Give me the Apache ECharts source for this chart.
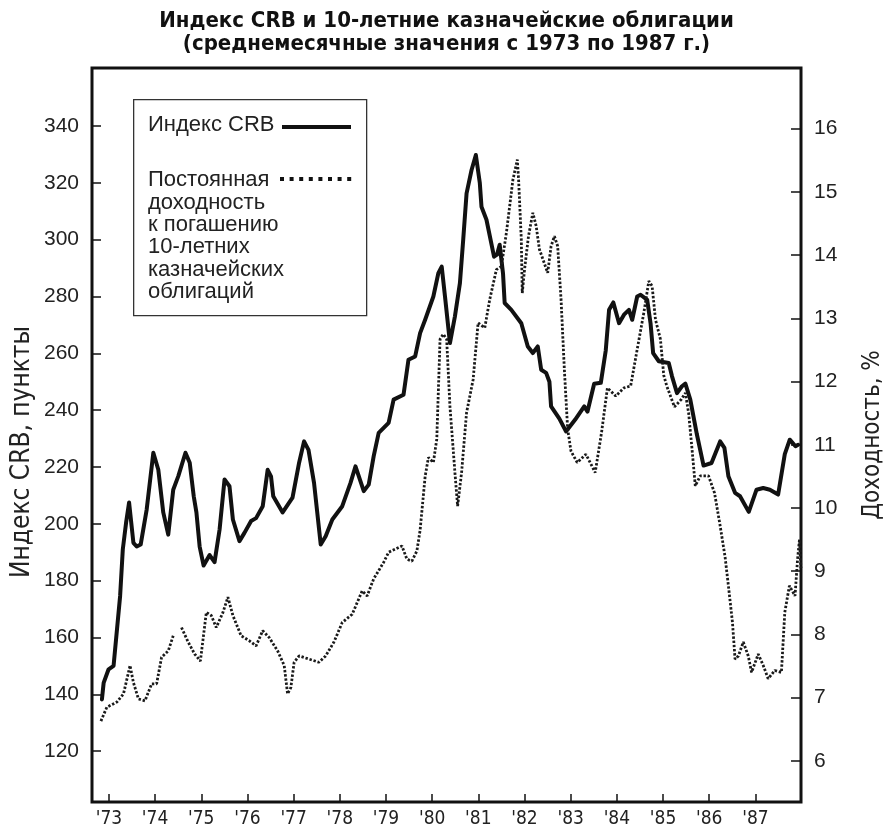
<!DOCTYPE html>
<html>
<head>
<meta charset="utf-8">
<title>Индекс CRB и 10-летние казначейские облигации</title>
<script src="https://cdn.jsdelivr.net/npm/echarts@6/dist/echarts.min.js"></script>
<style>
html, body { margin: 0; padding: 0; background: #fff; }
#chart { width: 893px; height: 829px; }
</style>
</head>
<body>
<div id="chart"></div>
<script>
// Индекс CRB (пункты), точки перегиба
var crbYears = [1972.849, 1972.886, 1972.993, 1973.101, 1973.243, 1973.301, 1973.372, 1973.437, 1973.531, 1973.602,
    1973.688, 1973.818, 1973.962, 1974.070, 1974.177, 1974.285, 1974.393, 1974.501, 1974.658, 1974.750,
    1974.837, 1974.895, 1974.965, 1975.051, 1975.181, 1975.288, 1975.397, 1975.504, 1975.611, 1975.685,
    1975.827, 1975.935, 1976.079, 1976.187, 1976.331, 1976.438, 1976.510, 1976.559, 1976.762, 1976.976,
    1977.119, 1977.226, 1977.322, 1977.442, 1977.587, 1977.694, 1977.838, 1978.053, 1978.232, 1978.340,
    1978.519, 1978.626, 1978.734, 1978.842, 1979.057, 1979.165, 1979.380, 1979.487, 1979.632, 1979.739,
    1979.848, 1980.026, 1980.134, 1980.207, 1980.278, 1980.385, 1980.493, 1980.601, 1980.672, 1980.745,
    1980.853, 1980.946, 1981.032, 1981.068, 1981.176, 1981.340, 1981.404, 1981.462, 1981.534, 1981.570,
    1981.714, 1981.930, 1982.071, 1982.180, 1982.287, 1982.361, 1982.468, 1982.539, 1982.575, 1982.754,
    1982.898, 1983.098, 1983.293, 1983.364, 1983.508, 1983.652, 1983.759, 1983.831, 1983.923, 1984.047,
    1984.154, 1984.261, 1984.332, 1984.440, 1984.513, 1984.656, 1984.729, 1984.785, 1984.908, 1985.123,
    1985.194, 1985.302, 1985.409, 1985.483, 1985.590, 1985.732, 1985.877, 1986.049, 1986.236, 1986.329,
    1986.415, 1986.559, 1986.667, 1986.856, 1987.024, 1987.169, 1987.313, 1987.492, 1987.636, 1987.744,
    1987.868, 1987.924];
var crbValues = [138.2, 144, 148.8, 150, 174.6, 191, 200.4, 207.5, 193.3, 192,
    192.7, 205, 225, 219, 204, 196.2, 212, 216.7, 225, 221.5,
    209.7, 204, 192, 185.3, 189, 186.5, 198, 215.6, 213.2, 201.5,
    193.9, 196.8, 201, 202, 206.2, 219, 216.7, 209.7, 204, 209.2,
    221.5, 229, 226, 214.4, 192.7, 195.6, 201.5, 206.2, 214.4, 220.2,
    211.5, 213.8, 223.8, 232, 235.5, 243.7, 245.4, 257.7, 258.9, 267.1,
    271.8, 280, 288.2, 290.5, 280, 263.6, 273, 284.7, 299.9, 316.3,
    324.5, 329.8, 319.9, 311.6, 307, 294, 294.7, 298.2, 288.2, 277.7,
    275.3, 270.6, 262.4, 260.1, 262.4, 254.2, 253.1, 250, 241.3, 237,
    232.5, 236.7, 241.3, 239.5, 249.3, 249.6, 261, 275.3, 277.9, 270.6,
    273.6, 275.3, 271.8, 280, 280.6, 278.8, 270.6, 260.1, 257.2, 256.6,
    251.9, 246, 248.4, 249.3, 243.7, 231.5, 220.5, 221.4, 229, 226.7,
    216.7, 210.9, 209.7, 204.2, 212, 212.6, 212, 210.3, 224.5, 229.6,
    227.3, 227.8];

// Доходность 10-летних казначейских облигаций (%), '-' — разрыв линии
var yieldYears = [1972.827, 1972.956, 1973.172, 1973.316, 1973.458, 1973.531, 1973.640, 1973.781, 1973.926, 1974.033,
    1974.141, 1974.285, 1974.393, 1974.484, 1974.572, 1974.716, 1974.858, 1974.981, 1975.110, 1975.217,
    1975.325, 1975.470, 1975.577, 1975.685, 1975.863, 1976.042, 1976.187, 1976.331, 1976.473, 1976.654,
    1976.796, 1976.869, 1976.940, 1977.011, 1977.119, 1977.335, 1977.549, 1977.694, 1977.873, 1978.053,
    1978.269, 1978.484, 1978.592, 1978.734, 1978.949, 1979.057, 1979.346, 1979.453, 1979.561, 1979.669,
    1979.739, 1979.848, 1979.919, 1980.026, 1980.100, 1980.171, 1980.241, 1980.314, 1980.385, 1980.493,
    1980.551, 1980.637, 1980.745, 1980.887, 1980.995, 1981.139, 1981.247, 1981.391, 1981.498, 1981.607,
    1981.748, 1981.844, 1981.872, 1981.930, 1981.951, 1982.000, 1982.086, 1982.180, 1982.252, 1982.323,
    1982.502, 1982.575, 1982.647, 1982.718, 1982.791, 1982.862, 1982.934, 1983.006, 1983.142, 1983.329,
    1983.421, 1983.530, 1983.669, 1983.795, 1983.975, 1984.154, 1984.298, 1984.440, 1984.584, 1984.692,
    1984.763, 1984.836, 1984.943, 1985.015, 1985.080, 1985.247, 1985.397, 1985.483, 1985.554, 1985.625,
    1985.698, 1985.806, 1985.984, 1986.114, 1986.236, 1986.344, 1986.415, 1986.503, 1986.559, 1986.631,
    1986.738, 1986.845, 1986.917, 1987.061, 1987.169, 1987.276, 1987.420, 1987.563, 1987.636, 1987.736,
    1987.857, 1987.914, 1987.954, 1987.985];
var yieldValues = [6.63, 6.85, 6.93, 7.06, 7.51, 7.24, 6.98, 6.95, 7.22, 7.22,
    7.64, 7.74, 7.98, '-', 8.11, 7.88, 7.69, 7.58, 8.35, 8.30,
    8.11, 8.35, 8.59, 8.30, 7.98, 7.90, 7.82, 8.06, 7.95, 7.74,
    7.51, 7.06, 7.16, 7.56, 7.66, 7.61, 7.56, 7.66, 7.88, 8.19,
    8.32, 8.69, 8.61, 8.88, 9.14, 9.30, 9.40, 9.19, 9.16, 9.32,
    9.65, 10.5, 10.8, 10.72, 11.09, 12.67, 12.75, 12.67, 11.61, 10.56,
    10.03, 10.56, 11.51, 12.03, 12.93, 12.85, 13.30, 13.77, 13.82, 14.35,
    15.19, 15.51, 15.19, 14.25, 13.40, 13.77, 14.30, 14.67, 14.46, 14.09,
    13.72, 14.14, 14.30, 14.14, 13.30, 12.20, 11.25, 10.90, 10.72, 10.85,
    10.72, 10.56, 11.20, 11.90, 11.77, 11.90, 11.93, 12.51, 13.09, 13.59,
    13.51, 12.98, 12.67, 12.10, 11.93, 11.60, 11.72, 11.82, 11.50, 10.95,
    10.35, 10.51, 10.51, 10.24, 9.72, 9.22, 8.77, 8.19, 7.61, 7.66,
    7.88, 7.66, 7.40, 7.69, 7.51, 7.30, 7.43, 7.40, 8.35, 8.77,
    8.61, 9.20, 9.50, 9.05];

var yearTicks = [1973, 1974, 1975, 1976, 1977, 1978, 1979, 1980, 1981, 1982, 1983, 1984, 1985, 1986, 1987];
var crbTicks = [120, 140, 160, 180, 200, 220, 240, 260, 280, 300, 320, 340];
var yieldTicks = [6, 7, 8, 9, 10, 11, 12, 13, 14, 15, 16];

var chart = echarts.init(document.getElementById('chart'));

function zip(xs, ys) {
    var out = [];
    for (var i = 0; i < xs.length; i++) {
        out.push([xs[i], ys[i]]);
    }
    return out;
}

var labelFont = "'Liberation Sans', Arial, sans-serif";
var narrowFont = "'Liberation Sans Narrow', 'DejaVu Sans Condensed', sans-serif";

var option = {
    animation: false,
    backgroundColor: '#fff',
    title: {
        text: 'Индекс CRB и 10-летние казначейские облигации\n(среднемесячные значения с 1973 по 1987 г.)',
        left: 'center',
        top: 5,
        textStyle: {
            fontFamily: "'DejaVu Sans Condensed', sans-serif",
            fontWeight: 'bold',
            fontSize: 22,
            lineHeight: 23,
            color: '#111'
        }
    },
    grid: {
        left: 92,
        right: 73,
        top: 68,
        bottom: 25,
        show: true,
        borderColor: '#111',
        borderWidth: 3,
        containLabel: false
    },
    xAxis: {
        type: 'value',
        min: 1972.634,
        max: 1987.987,
        axisLine: { show: false },
        splitLine: { show: false },
        axisTick: {
            inside: true,
            length: 8,
            customValues: yearTicks,
            lineStyle: { color: '#111', width: 1.5 }
        },
        axisLabel: {
            customValues: yearTicks,
            margin: 8,
            fontSize: 19,
            fontFamily: narrowFont,
            color: '#222',
            formatter: function (v) {
                return "'" + String(Math.round(v)).slice(2);
            }
        }
    },
    yAxis: [{
        type: 'value',
        position: 'left',
        min: 102.1,
        max: 360.4,
        axisLine: { show: false },
        splitLine: { show: false },
        axisTick: {
            inside: true,
            length: 9,
            customValues: crbTicks,
            lineStyle: { color: '#111', width: 1.5 }
        },
        axisLabel: {
            customValues: crbTicks,
            margin: 13,
            fontSize: 21,
            fontFamily: labelFont,
            color: '#222'
        }
    }, {
        type: 'value',
        position: 'right',
        min: 5.35,
        max: 16.96,
        name: 'Доходность, %',
        nameLocation: 'middle',
        nameRotate: 90,
        nameGap: 60,
        nameTextStyle: { fontSize: 24, fontFamily: narrowFont, color: '#222' },
        axisLine: { show: false },
        splitLine: { show: false },
        axisTick: {
            inside: true,
            length: 10,
            customValues: yieldTicks,
            lineStyle: { color: '#111', width: 1.5 }
        },
        axisLabel: {
            customValues: yieldTicks,
            margin: 13,
            fontSize: 21,
            fontFamily: labelFont,
            color: '#222'
        }
    }],
    series: [{
        name: 'Индекс CRB',
        type: 'line',
        yAxisIndex: 0,
        showSymbol: false,
        data: zip(crbYears, crbValues),
        lineStyle: { color: '#111', width: 4, join: 'round', cap: 'round' }
    }, {
        name: 'Доходность',
        type: 'line',
        yAxisIndex: 1,
        showSymbol: false,
        connectNulls: false,
        data: zip(yieldYears, yieldValues),
        lineStyle: { color: '#1a1a1a', width: 2.8, type: [2.4, 1.8] }
    }],
    graphic: [
        {
            // название левой оси
            type: 'text',
            x: 22, y: 452,
            rotation: Math.PI / 2,
            style: {
                text: 'Индекс CRB, пункты',
                font: "26px 'Liberation Sans Narrow', 'DejaVu Sans Condensed', sans-serif",
                fill: '#222',
                align: 'center',
                verticalAlign: 'middle'
            }
        },
        {
            type: 'rect',
            left: 133, top: 99,
            shape: { width: 233, height: 216 },
            style: { fill: '#fff', stroke: '#333', lineWidth: 1.3 }
        },
        {
            type: 'text', left: 148, top: 114,
            style: { text: 'Индекс CRB', font: "22px 'Liberation Sans', Arial, sans-serif", fill: '#222' }
        },
        {
            type: 'line',
            shape: { x1: 282, y1: 127, x2: 351, y2: 127 },
            style: { stroke: '#111', lineWidth: 4 }
        },
        {
            type: 'text', left: 148, top: 169,
            style: {
                text: 'Постоянная\nдоходность\nк погашению\n10-летних\nказначейских\nоблигаций',
                font: "22px 'Liberation Sans', Arial, sans-serif",
                lineHeight: 22.4,
                fill: '#222'
            }
        },
        {
            type: 'line',
            shape: { x1: 280, y1: 179, x2: 354, y2: 179 },
            style: { stroke: '#111', lineWidth: 4, lineDash: [4, 5.6] }
        }
    ]
};

chart.setOption(option);
</script>
</body>
</html>
